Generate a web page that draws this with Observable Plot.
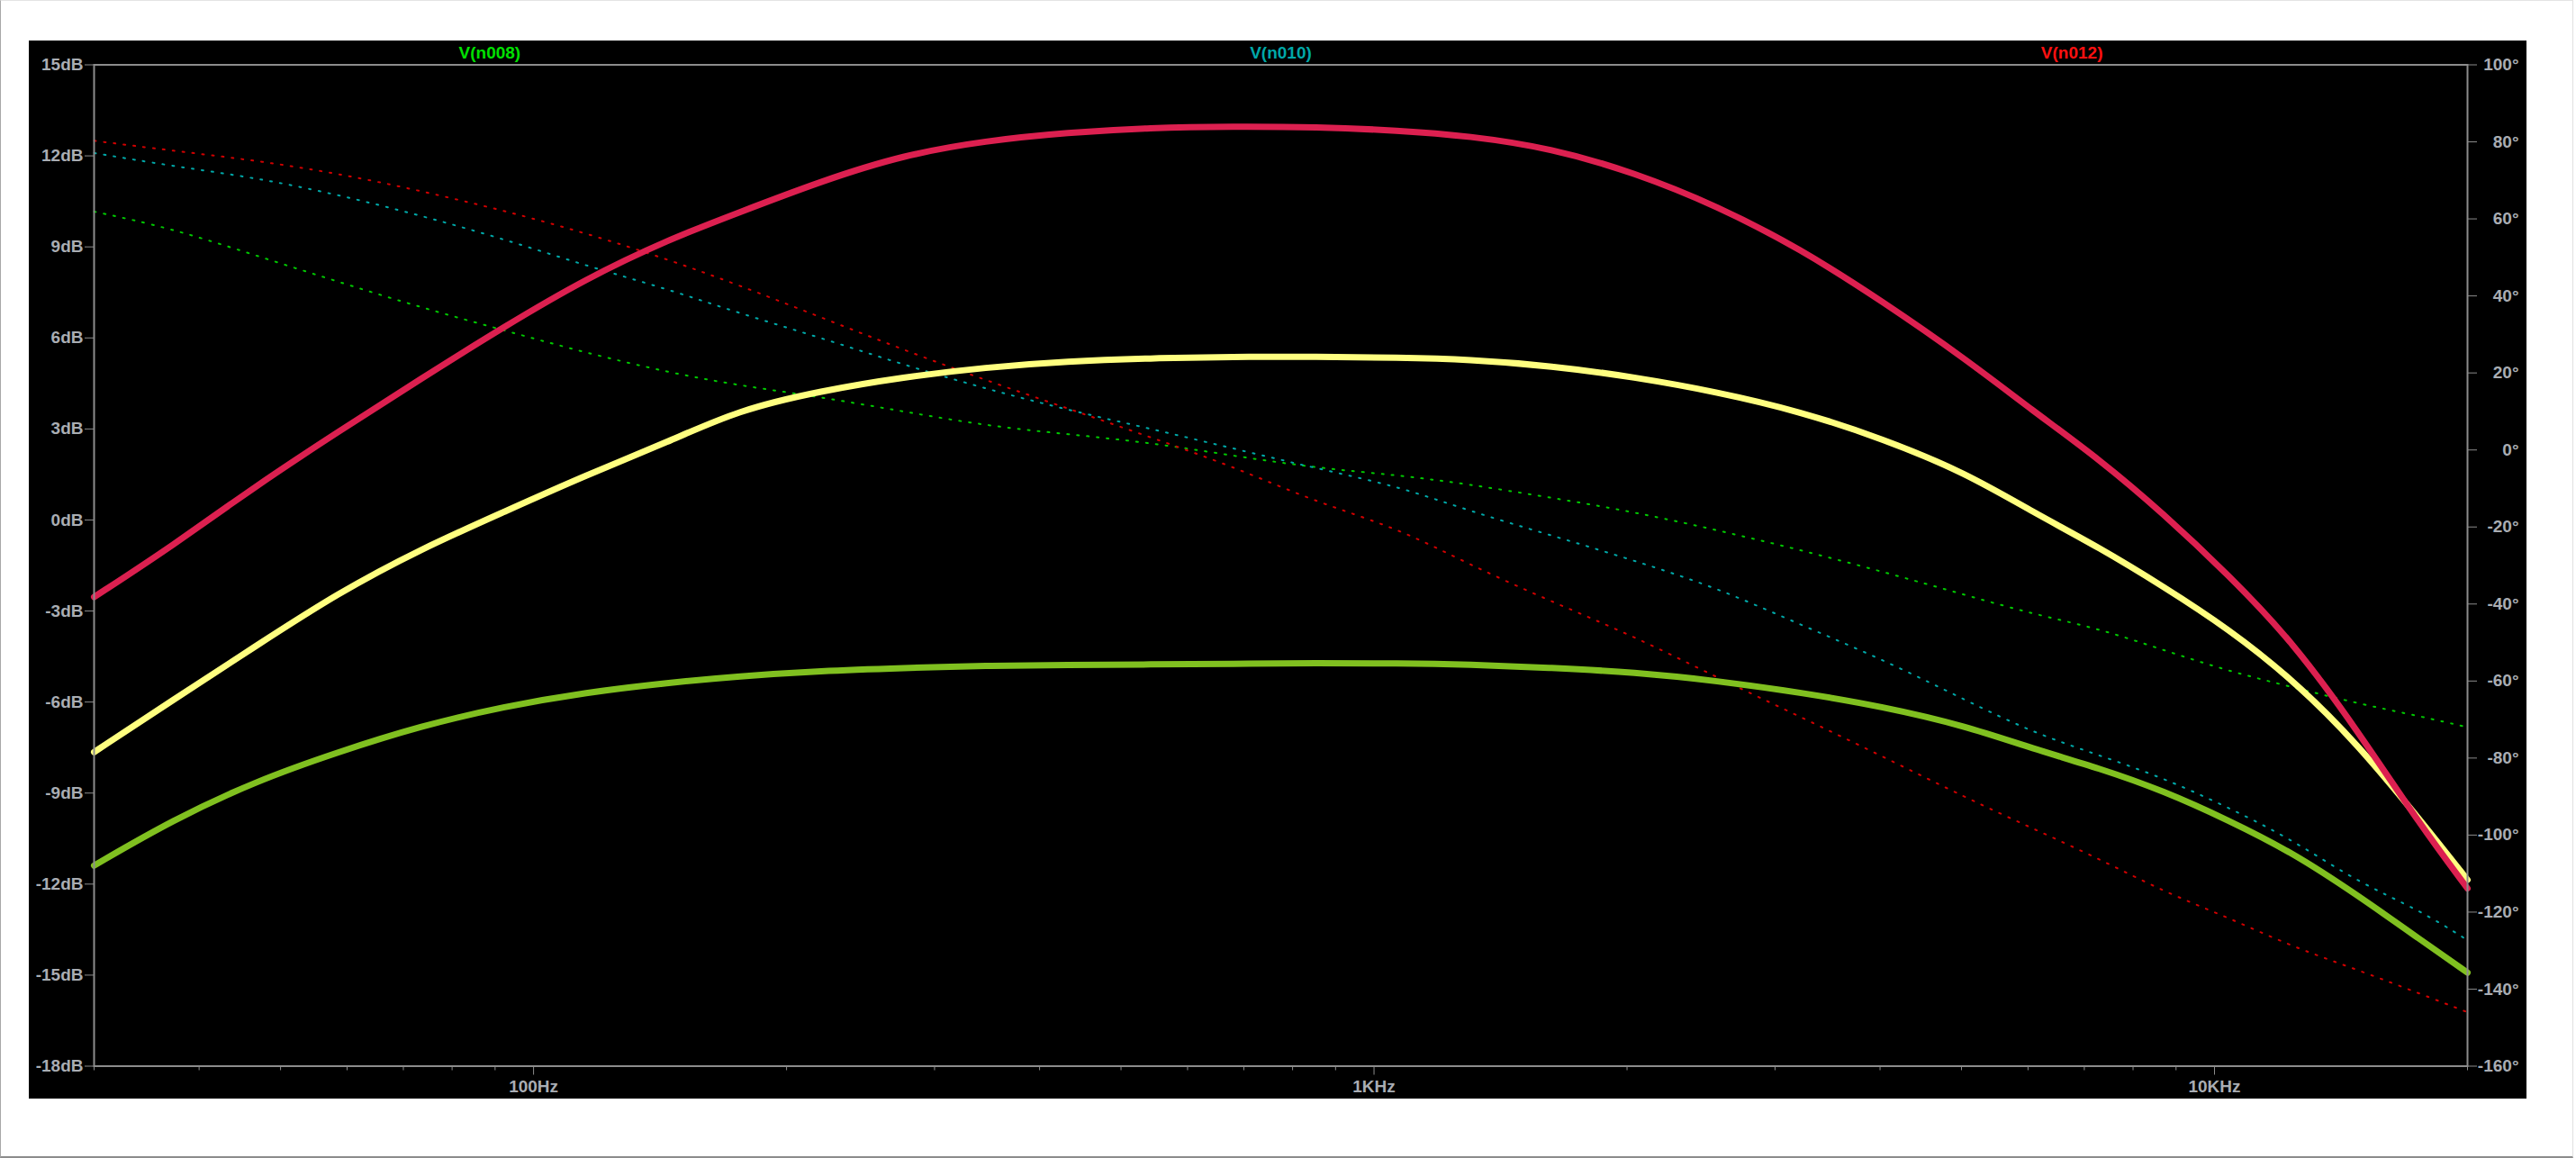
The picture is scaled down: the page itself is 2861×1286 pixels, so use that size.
<!DOCTYPE html>
<html>
<head>
<meta charset="utf-8">
<script src="https://cdn.jsdelivr.net/npm/d3@7"></script>
<script src="https://cdn.jsdelivr.net/npm/@observablehq/plot@0.6"></script>
<style>
  html, body { margin: 0; padding: 0; background: #ffffff; }
  body { width: 2861px; height: 1286px; position: relative; overflow: hidden; }
  #outer { position: absolute; left: 0; top: 0; width: 2856px; height: 1283px;
           border-top: 1px solid #e4e4e4; border-left: 1px solid #a8a8a8;
           border-right: 1px solid #e0e0e0; border-bottom: 2px solid #8c8c8c; }
  #panel { position: absolute; left: 32px; top: 45px; width: 2774px; height: 1175px; background: #000; }
  #panel svg { display: block; }
</style>
</head>
<body>
<div id="outer"></div>
<div id="panel"></div>
<script>
// ---- data (frequency in Hz) ----
const freq = [30, 37.2, 46.7, 58.5, 73.4, 92.1, 115.5, 144.9, 175, 220, 275.5, 345, 432, 542, 680, 854, 1068,
              1296, 1627, 2040, 2560, 3210, 4030, 5060, 6080, 7297, 8704, 10381, 12381, 14768, 17620, 20000];

// magnitudes (dB)
const magN012 = [-2.54, -0.85, 1.12, 2.90, 4.65, 6.36, 7.96, 9.25, 10.12, 11.17, 12.03, 12.50, 12.77, 12.93, 12.97, 12.95, 12.84,
                 12.66, 12.25, 11.45, 10.35, 8.95, 7.20, 5.30, 3.60, 2.00, 0.20, -1.80, -4.00, -6.90, -10.10, -12.14];
const magN010 = [-7.65, -5.94, -4.16, -2.41, -0.96, 0.26, 1.48, 2.58, 3.62, 4.26, 4.71, 5.03, 5.23, 5.33, 5.38, 5.38, 5.35,
                 5.29, 5.08, 4.71, 4.22, 3.58, 2.68, 1.55, 0.26, -0.91, -2.20, -3.58, -5.25, -7.35, -9.93, -11.86];
const magN008 = [-11.39, -9.89, -8.61, -7.65, -6.79, -6.15, -5.68, -5.36, -5.15, -4.97, -4.88, -4.80, -4.78, -4.76, -4.74, -4.72, -4.72,
                 -4.76, -4.87, -5.02, -5.30, -5.68, -6.15, -6.79, -7.54, -8.18, -8.93, -9.89, -10.96, -12.35, -13.85, -14.92];

// phases (degrees)
const phaseN012 = [80.3, 77.7, 75.2, 71.8, 67.3, 62.2, 56.3, 49.4, 42.9, 34.4, 26.0, 18.1, 10.8, 3.3, -4.3, -13.6, -20.3,
                   -29.7, -39.4, -48.4, -59.1, -69.2, -79.6, -90.3, -98.3, -106.2, -114.7, -121.4, -129.0, -134.9, -141.3, -146.0];
const phaseN010 = [77.1, 73.7, 70.7, 66.3, 60.9, 54.8, 47.8, 41.7, 35.6, 29.1, 22.1, 15.9, 10.4, 5.5, 0.4, -4.8, -9.4,
                   -15.8, -22.2, -28.7, -35.8, -45.3, -54.4, -65.0, -73.4, -79.3, -85.2, -92.8, -101.2, -112.1, -119.7, -127.3];
const phaseN008 = [61.9, 57.5, 50.5, 43.7, 37.0, 31.1, 25.2, 20.1, 16.8, 13.7, 10.0, 6.3, 4.1, 1.9, -1.5, -4.7, -6.5,
                   -8.9, -12.4, -16.1, -20.8, -25.9, -31.6, -37.7, -42.6, -46.4, -52.0, -57.4, -61.6, -65.8, -69.2, -72.0];

// axes
const dbTicks = [15, 12, 9, 6, 3, 0, -3, -6, -9, -12, -15, -18];
const degTicks = [100, 80, 60, 40, 20, 0, -20, -40, -60, -80, -100, -120, -140, -160];
const freqTicks = [100, 1000, 10000];
const freqTickLabels = ["100Hz", "1KHz", "10KHz"];
const minorFreqTicks = [30, 40, 50, 60, 70, 80, 90, 200, 300, 400, 500, 600, 700, 800, 900,
                        2000, 3000, 4000, 5000, 6000, 7000, 8000, 9000, 20000];
const traceNames = ["V(n008)", "V(n010)", "V(n012)"];
const traceColors = ["#00e000", "#00a8a8", "#ff1010"];

// ---- scales ----
const fDomain = [30, 20000];
const dbDomain = [-18, 15];
const degDomain = [-160, 100];
const degToDb = d => dbDomain[0] + (d - degDomain[0]) * (dbDomain[1] - dbDomain[0]) / (degDomain[1] - degDomain[0]);
const dbToDeg = v => degDomain[0] + (v - dbDomain[0]) * (degDomain[1] - degDomain[0]) / (dbDomain[1] - dbDomain[0]);

const rows = arr => freq.map((f, i) => ({f, v: arr[i]}));
const phaseRows = arr => freq.map((f, i) => ({f, v: degToDb(arr[i])}));

const axisGray = "#8c8c8c";
const textGray = "#a9adb3";

const labelMarks = traceNames.map((name, i) =>
  Plot.text([name], {
    x: () => fDomain[0] * Math.pow(fDomain[1] / fDomain[0], (2 * i + 1) / 6),
    frameAnchor: "top", lineAnchor: "bottom", dy: -7.5,
    text: d => d, fill: traceColors[i], textAnchor: "middle",
    fontSize: 19, fontWeight: "bold"
  })
);

const chart = Plot.plot({
  width: 2774, height: 1175,
  marginLeft: 72, marginRight: 66, marginTop: 26.5, marginBottom: 36.5,
  style: {background: "#000", color: textGray, fontFamily: "'Liberation Sans', Arial, sans-serif", fontSize: "19px", fontWeight: "bold"},
  x: {type: "log", domain: fDomain},
  y: {domain: dbDomain},
  marks: [
    // phase traces (dotted)
    Plot.line(phaseRows(phaseN008), {x: "f", y: "v", stroke: "#00c800", strokeWidth: 2, strokeDasharray: "2,9", curve: "basis"}),
    Plot.line(phaseRows(phaseN010), {x: "f", y: "v", stroke: "#00a8a8", strokeWidth: 2, strokeDasharray: "2,9", curve: "basis"}),
    Plot.line(phaseRows(phaseN012), {x: "f", y: "v", stroke: "#d00000", strokeWidth: 2, strokeDasharray: "2,9", curve: "basis"}),
    // magnitude traces (thick)
    Plot.line(rows(magN008), {x: "f", y: "v", stroke: "#80c020", strokeWidth: 7, curve: "basis"}),
    Plot.line(rows(magN010), {x: "f", y: "v", stroke: "#ffff80", strokeWidth: 7, curve: "basis"}),
    Plot.line(rows(magN012), {x: "f", y: "v", stroke: "#dc2050", strokeWidth: 7, curve: "basis"}),
    // axes
    Plot.axisY({anchor: "left", ticks: dbTicks, tickFormat: d => d + "dB", tickSize: 10, tickPadding: 2,
                stroke: axisGray, fill: textGray, label: null}),
    Plot.axisY({anchor: "right", ticks: degTicks.map(degToDb), tickFormat: v => Math.round(dbToDeg(v)) + "°",
                tickSize: 10, tickPadding: 47, textAnchor: "end", stroke: axisGray, fill: textGray, label: null}),
    Plot.axisX({anchor: "bottom", ticks: freqTicks, tickFormat: f => freqTickLabels[freqTicks.indexOf(f)],
                tickSize: 10, tickPadding: 5.5, stroke: axisGray, fill: textGray, label: null}),
    Plot.axisX({anchor: "bottom", ticks: minorFreqTicks, tickFormat: () => "", tickSize: 5,
                stroke: axisGray, label: null}),
    Plot.frame({stroke: axisGray, strokeWidth: 2}),
    ...labelMarks
  ]
});
document.getElementById("panel").appendChild(chart);
</script>
</body>
</html>
